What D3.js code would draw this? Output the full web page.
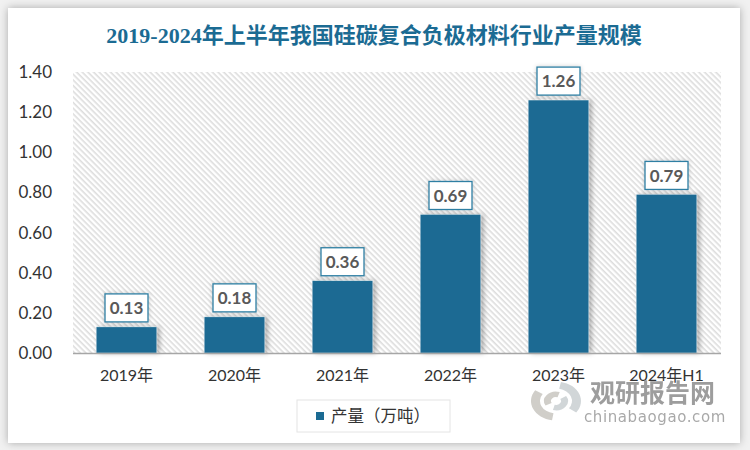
<!DOCTYPE html>
<html>
<head>
<meta charset="utf-8">
<style>
  html, body { margin: 0; padding: 0; background: #fff; }
  text { font-family: Lato, "Noto Sans CJK SC", sans-serif; }
</style>
<script src="https://cdnjs.cloudflare.com/ajax/libs/d3/7.8.5/d3.min.js"></script>
</head>
<body>
<svg id="chart" width="750" height="450"></svg>
<script>
const categories = ["2019年", "2020年", "2021年", "2022年", "2023年", "2024年H1"];
const values = [0.13, 0.18, 0.36, 0.69, 1.26, 0.79];
const yTicks = [0, 0.2, 0.4, 0.6, 0.8, 1.0, 1.2, 1.4];
const titleText = "2019-2024年上半年我国硅碳复合负极材料行业产量规模";
const legendText = "产量（万吨）";

const blue = "#1b6b93";
const plot = { left: 73, right: 721, top: 72, bottom: 353 };

const svg = d3.select("#chart");
const defs = svg.append("defs");

// hatch for the plot background
const hatch = defs.append("pattern").attr("id", "hatch")
  .attr("width", 4).attr("height", 4)
  .attr("patternUnits", "userSpaceOnUse")
  .attr("patternTransform", "rotate(45)");
hatch.append("rect").attr("width", 4).attr("height", 4).attr("fill", "#fff");
hatch.append("rect").attr("width", 4).attr("height", 1.6).attr("fill", "#dddddd");

const shadow = defs.append("filter").attr("id", "barShadow")
  .attr("x", "-30%").attr("y", "-30%").attr("width", "160%").attr("height", "160%");
shadow.append("feDropShadow").attr("dx", 3).attr("dy", 0)
  .attr("stdDeviation", 2.5).attr("flood-color", "#000").attr("flood-opacity", 0.3);

const cardShadow = defs.append("filter").attr("id", "cardShadow")
  .attr("x", "-5%").attr("y", "-5%").attr("width", "110%").attr("height", "110%");
cardShadow.append("feDropShadow").attr("dx", 0).attr("dy", 0)
  .attr("stdDeviation", 4).attr("flood-color", "#000").attr("flood-opacity", 0.3);

const labelShadow = defs.append("filter").attr("id", "labelShadow")
  .attr("x", "-30%").attr("y", "-30%").attr("width", "160%").attr("height", "160%");
labelShadow.append("feDropShadow").attr("dx", 0).attr("dy", 0)
  .attr("stdDeviation", 2).attr("flood-color", "#000").attr("flood-opacity", 0.2);

// outer card
svg.append("rect").attr("width", 750).attr("height", 450).attr("fill", "#f1f1f1");
svg.append("rect").attr("x", 8).attr("y", 8).attr("width", 732).attr("height", 435)
  .attr("fill", "#fff").attr("filter", "url(#cardShadow)");

// title
svg.append("text")
  .attr("x", 374).attr("y", 43)
  .attr("text-anchor", "middle")
  .attr("fill", blue)
  .style("font-family", '"Liberation Serif", "Noto Sans CJK SC", serif')
  .style("font-size", "22px").style("font-weight", "bold")
  .text(titleText);

const x = d3.scaleBand().domain(categories).range([plot.left - 0.5, plot.right - 0.5]).paddingInner(0.44).paddingOuter(0.22);
const y = d3.scaleLinear().domain([0, 1.4]).range([plot.bottom, plot.top]);

svg.append("rect")
  .attr("x", plot.left).attr("y", plot.top)
  .attr("width", plot.right - plot.left).attr("height", plot.bottom - plot.top)
  .attr("fill", "url(#hatch)");

// bars
svg.append("g").selectAll("rect").data(values).join("rect")
  .attr("x", (d, i) => x(categories[i]))
  .attr("y", d => y(d))
  .attr("width", x.bandwidth())
  .attr("height", d => y(0) - y(d))
  .attr("fill", blue)
  .attr("stroke", "#fff").attr("stroke-opacity", 0.5).attr("stroke-width", 0.6)
  .attr("filter", "url(#barShadow)");

// axes
const yAxis = svg.append("g").attr("transform", `translate(${plot.left},0)`)
  .call(d3.axisLeft(y).tickValues(yTicks).tickFormat(d3.format(".2f")).tickSize(0).tickPadding(21));
yAxis.select(".domain").remove();
yAxis.selectAll("text").attr("fill", "#333").style("font-size", "17px");

const xAxis = svg.append("g").attr("transform", `translate(0,${plot.bottom})`)
  .call(d3.axisBottom(x).tickSize(0).tickPadding(17));
xAxis.select(".domain").attr("stroke", "#a6a6a6").attr("stroke-width", 1.5);
xAxis.selectAll("text").attr("fill", "#333").style("font-size", "16px");

// value labels
const labels = svg.append("g").selectAll("g").data(values).join("g")
  .attr("transform", (d, i) => `translate(${x(categories[i]) + x.bandwidth() / 2},${y(d) - 19})`);
labels.append("rect")
  .attr("x", -21.5).attr("y", -14).attr("width", 43).attr("height", 28)
  .attr("fill", "#fff").attr("stroke", "#2f7fa3").attr("stroke-width", 1.3)
  .attr("filter", "url(#labelShadow)");
labels.append("text")
  .attr("text-anchor", "middle").attr("dy", "0.36em")
  .attr("fill", "#595959").style("font-size", "17px").style("font-weight", "bold")
  .text(d => d3.format(".2f")(d));

// legend
svg.append("rect").attr("x", 297).attr("y", 400).attr("width", 153).attr("height", 32)
  .attr("fill", "#fff").attr("stroke", "#e4e4e4");
svg.append("rect").attr("x", 316).attr("y", 412).attr("width", 8).attr("height", 8).attr("fill", blue);
svg.append("text").attr("x", 331).attr("y", 422)
  .attr("fill", "#333").style("font-size", "16.5px").text(legendText);

// watermark
const wm = svg.append("g").attr("opacity", 0.85);
const arc = d3.arc();
const logo = wm.append("g").attr("transform", "translate(556,401) scale(1,0.78)");
[[16, 25, 0.2, 2.2, "#c9cfd2"], [16, 25, 3.3, 5.3, "#c8c6c0"], [5, 12, 1.0, 3.4, "#c9cfd2"], [5, 12, 4.2, 6.6, "#c8c6c0"]]
  .forEach(a => logo.append("path")
    .attr("d", arc({ innerRadius: a[0], outerRadius: a[1], startAngle: a[2], endAngle: a[3] }))
    .attr("fill", a[4]));
wm.append("text").attr("x", 590).attr("y", 402)
  .attr("fill", "#8c8c8c")
  .style("font-size", "25px").style("font-weight", "bold")
  .style("font-family", '"Noto Sans CJK SC", sans-serif').text("观研报告网");
wm.append("text").attr("x", 584).attr("y", 422)
  .attr("fill", "#9a9a9a")
  .style("font-size", "15px").style("letter-spacing", "0.6px")
  .style("font-family", '"DejaVu Sans", sans-serif').text("chinabaogao.com");
</script>
</body>
</html>
